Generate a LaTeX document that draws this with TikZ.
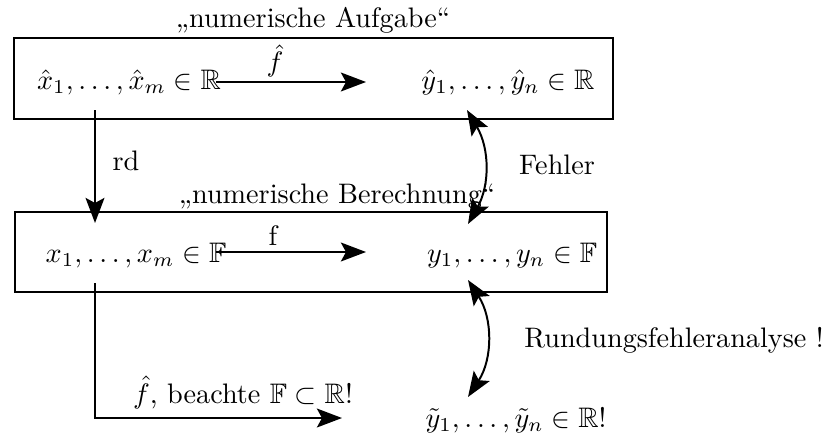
\documentclass[tikz,border=0pt]{standalone}
\usepackage{amssymb}
\usetikzlibrary{arrows.meta}
\begin{document}
\begin{tikzpicture}[x=0.3546pt,y=-0.3546pt,
  line width=0.7pt,
  head/.tip={Stealth[length=8.9pt,width=6.7pt,inset=1.8pt]},
  tip/.style={-head},
  bitip/.style={head-head},
  frame/.style={draw,rectangle,inner sep=0pt},
  txt/.style={anchor=base,inner sep=0pt}]
\useasboundingbox (0,0) rectangle (832,434);

% the two frames
\node[frame,minimum width=212.4pt,minimum height=28.7pt] (task) at (313.5,78.5) {};
\node[frame,minimum width=209.9pt,minimum height=28.4pt] (comp) at (311,252) {};

% captions of the frames
\node[txt] (ttask) at (313,28) {„numerische Aufgabe“};
\node[txt] (tcomp) at (337,203) {„numerische Berechnung“};

% quantities
\node[txt] (xh) at (129,89) {$\hat x_1,\dots,\hat x_m\in\mathbb{R}$};
\node[txt] (yh) at (508,89) {$\hat y_1,\dots,\hat y_n\in\mathbb{R}$};
\node[txt] (xf) at (136,262) {$x_1,\dots,x_m\in\mathbb{F}$};
\node[txt] (yf) at (512,262) {$y_1,\dots,y_n\in\mathbb{F}$};
\node[txt] (yt) at (516,427) {$\tilde y_1,\dots,\tilde y_n\in\mathbb{R}$!};

% labels
\node[txt] (lfh) at (275,72) {$\hat f$};
\node[txt] (lf) at (273,245) {f};
\node[txt] (lrd) at (126,170) {rd};
\node[txt] (lerr) at (557,174) {Fehler};
\node[txt] (lrund) at (674,347) {Rundungsfehleranalyse !};
\node[txt] (lbea) at (243,403) {$\hat f$, beachte $\mathbb{F}\subset\mathbb{R}$!};

% connector end points
\coordinate (a1) at (216,82);  \coordinate (a2) at (366,82);
\coordinate (b1) at (216,252); \coordinate (b2) at (366,252);
\coordinate (r1) at (95,110);  \coordinate (r2) at (95,223);
\coordinate (e1) at (467,110); \coordinate (e2) at (468,224);
\coordinate (g1) at (468,280); \coordinate (g2) at (468,397);
\coordinate (h1) at (95,283);  \coordinate (h2) at (342,418);

% connectors
\draw[tip] (a1) -- (a2);
\draw[tip] (b1) -- (b2);
\draw[tip] (r1) -- (r2);
\draw[bitip] (e1) to[bend left=30] (e2);
\draw[bitip] (g1) to[bend left=33] (g2);
\draw[tip] (h1) |- (h2);
\end{tikzpicture}
\end{document}
